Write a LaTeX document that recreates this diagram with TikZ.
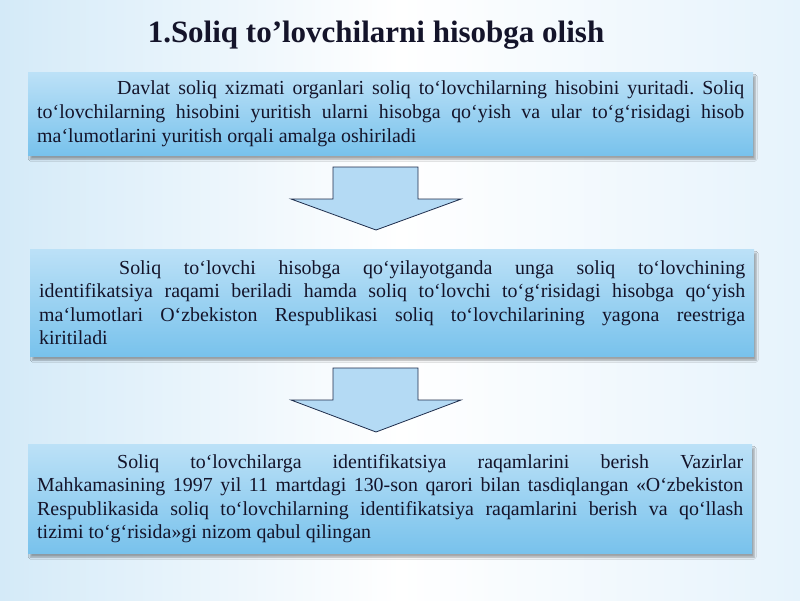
\documentclass[tikz,border=0pt]{standalone}
\usepackage{fontspec}
\setmainfont{Liberation Serif}
\usetikzlibrary{shadows.blur}
\definecolor{boxtop}{HTML}{BCE1F7}
\definecolor{boxbot}{HTML}{78C2EC}
\definecolor{arrfill}{HTML}{B4DAF4}
\definecolor{arrline}{HTML}{1E2D4C}
\definecolor{txt}{HTML}{14142A}
\definecolor{bgl}{HTML}{D4EAF8}
\definecolor{bgr}{HTML}{E6F3FC}
\tikzset{
  infobox/.style={draw=none, top color=boxtop, bottom color=boxbot, anchor=north west,
    inner xsep=9pt, inner ysep=0pt, align=justify, text=txt,
    font=\fontsize{19.9}{23.6}\selectfont\frenchspacing,
    blur shadow={shadow xshift=2pt, shadow yshift=-4pt, shadow blur steps=6, shadow opacity=35}},
  downarrow/.style={fill=arrfill, draw=arrline, line width=0.8pt, line join=miter},
  titletext/.style={font=\fontsize{31}{34}\selectfont\bfseries, text=txt}
}
\begin{document}
\begin{tikzpicture}[x=1pt,y=-1pt]
\useasboundingbox (0,0) rectangle (800,600);
\shade[left color=bgl, right color=bgr, middle color=white] (0,0) rectangle (800,600);
\node[titletext] (title) at (376,35) {1.Soliq to’lovchilarni hisobga olish};
\node[infobox, minimum width=725pt, minimum height=83pt, text width=707pt] (b1) at (28,72)
 {\hspace*{80pt}Davlat soliq xizmati organlari soliq to‘lovchilarning hisobini yuritadi. Soliq\linebreak
 to‘lovchilarning hisobini yuritish ularni hisobga qo‘yish va ular to‘g‘risidagi hisob\linebreak
 ma‘lumotlarini yuritish orqali amalga oshiriladi};
\node[infobox, minimum width=724pt, minimum height=107pt, text width=706pt] (b2) at (30,249)
 {\hspace*{80pt}Soliq to‘lovchi hisobga qo‘yilayotganda unga soliq to‘lovchining\linebreak
 identifikatsiya raqami beriladi hamda soliq to‘lovchi to‘g‘risidagi hisobga qo‘yish\linebreak
 ma‘lumotlari O‘zbekiston Respublikasi soliq to‘lovchilarining yagona reestriga\linebreak
 kiritiladi};
\node[infobox, minimum width=724pt, minimum height=109pt, text width=706pt] (b3) at (28,444)
 {\hspace*{80pt}Soliq to‘lovchilarga identifikatsiya raqamlarini berish Vazirlar\linebreak
 Mahkamasining 1997 yil 11 martdagi 130-son qarori bilan tasdiqlangan «O‘zbekiston\linebreak
 Respublikasida soliq to‘lovchilarning identifikatsiya raqamlarini berish va qo‘llash\linebreak
 tizimi to‘g‘risida»gi nizom qabul qilingan};
\draw[downarrow] (333,167) -- (418,167) -- (418,199) -- (461,199) -- (376,230)
  -- (291,199) -- (333,199) -- cycle;
\draw[downarrow] (333,368) -- (418,368) -- (418,400) -- (461,400) -- (376,432)
  -- (291,400) -- (333,400) -- cycle;
\end{tikzpicture}
\end{document}
